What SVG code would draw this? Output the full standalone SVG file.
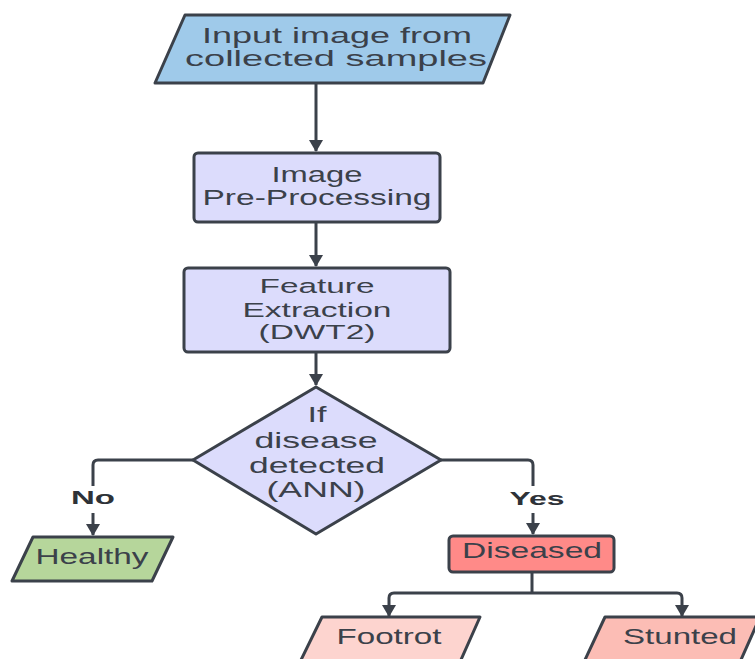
<svg xmlns="http://www.w3.org/2000/svg" width="755" height="659" viewBox="0 0 755 659">
<defs>
<style>
.s{stroke:#3b414a;stroke-width:3;stroke-linejoin:round}
.t{font-family:"Liberation Sans",Arial,sans-serif;font-size:22px;fill:#3b414a;text-anchor:middle}
.f{font-size:20.5px}
.b{font-family:"Liberation Sans",Arial,sans-serif;font-size:19px;font-weight:bold;fill:#2e3238;text-anchor:middle}
.c{fill:none;stroke:#3b414a;stroke-width:3;stroke-linejoin:round}
</style>
<marker id="ah" markerUnits="userSpaceOnUse" viewBox="0 0 12 14" refX="11" refY="7" markerWidth="12" markerHeight="14" orient="auto">
<path d="M0,0 L12,7 L0,14 z" fill="#3b414a"/>
</marker>
</defs>
<rect width="755" height="659" fill="#ffffff"/>
<g id="connectors">
<path class="c" d="M316,84 V151" marker-end="url(#ah)"/>
<path class="c" d="M316,223 V266" marker-end="url(#ah)"/>
<path class="c" d="M316,353 V385" marker-end="url(#ah)"/>
<path class="c" d="M193,460 H98 Q93,460 93,465 V486"/>
<path class="c" d="M93,513 V535" marker-end="url(#ah)"/>
<path class="c" d="M441,460 H528 Q533,460 533,465 V486"/>
<path class="c" d="M533,513 V534" marker-end="url(#ah)"/>
<path class="c" d="M532,572 V593"/>
<path class="c" d="M532,593 H394 Q389,593 389,598 V616" marker-end="url(#ah)"/>
<path class="c" d="M532,593 H677 Q682,593 682,598 V616" marker-end="url(#ah)"/>
<text class="b" x="93" y="504" textLength="44" lengthAdjust="spacingAndGlyphs">No</text>
<text class="b" x="537" y="505" textLength="55" lengthAdjust="spacingAndGlyphs">Yes</text>
</g>
<g id="input">
<path class="s" fill="#9fcaea" d="M185,15 H510 L483,83 H155 Z"/>
<text class="t" x="337" y="43" textLength="270" lengthAdjust="spacingAndGlyphs">Input image from</text>
<text class="t" x="336" y="66" textLength="302" lengthAdjust="spacingAndGlyphs">collected samples</text>
</g>
<g id="preprocessing">
<rect class="s" fill="#dcdcfc" x="194" y="153" width="246" height="69" rx="4"/>
<text class="t" x="317" y="182" textLength="91" lengthAdjust="spacingAndGlyphs">Image</text>
<text class="t" x="317" y="205" textLength="229" lengthAdjust="spacingAndGlyphs">Pre-Processing</text>
</g>
<g id="feature">
<rect class="s" fill="#dcdcfc" x="184" y="268" width="266" height="84" rx="4"/>
<text class="t f" x="317" y="293" textLength="115" lengthAdjust="spacingAndGlyphs">Feature</text>
<text class="t f" x="317" y="317" textLength="149" lengthAdjust="spacingAndGlyphs">Extraction</text>
<text class="t f" x="317" y="339" textLength="117" lengthAdjust="spacingAndGlyphs">(DWT2)</text>
</g>
<g id="decision">
<path class="s" fill="#dcdcfc" d="M316,387 L441,460 L316,534 L193,460 Z"/>
<text class="t" x="317" y="422" textLength="19" lengthAdjust="spacingAndGlyphs">If</text>
<text class="t" x="316" y="448" textLength="123" lengthAdjust="spacingAndGlyphs">disease</text>
<text class="t" x="317" y="473" textLength="136" lengthAdjust="spacingAndGlyphs">detected</text>
<text class="t" x="316" y="497" textLength="99" lengthAdjust="spacingAndGlyphs">(ANN)</text>
</g>
<g id="healthy">
<path class="s" fill="#b6d69b" d="M33,537 H173 L152,581 H12 Z"/>
<text class="t" x="92" y="564" textLength="113" lengthAdjust="spacingAndGlyphs">Healthy</text>
</g>
<g id="diseased">
<rect class="s" fill="#ff8a88" x="449" y="536" width="165" height="36" rx="4"/>
<text class="t" x="532" y="558" textLength="140" lengthAdjust="spacingAndGlyphs">Diseased</text>
</g>
<g id="footrot">
<path class="s" fill="#fdd4cf" d="M322,617 H480 L460,662 H300 Z"/>
<text class="t" x="389" y="644" textLength="105" lengthAdjust="spacingAndGlyphs">Footrot</text>
</g>
<g id="stunted">
<path class="s" fill="#fcbdb5" d="M605,617 H760 L740,662 H584 Z"/>
<text class="t" x="680" y="644" textLength="114" lengthAdjust="spacingAndGlyphs">Stunted</text>
</g>
</svg>
